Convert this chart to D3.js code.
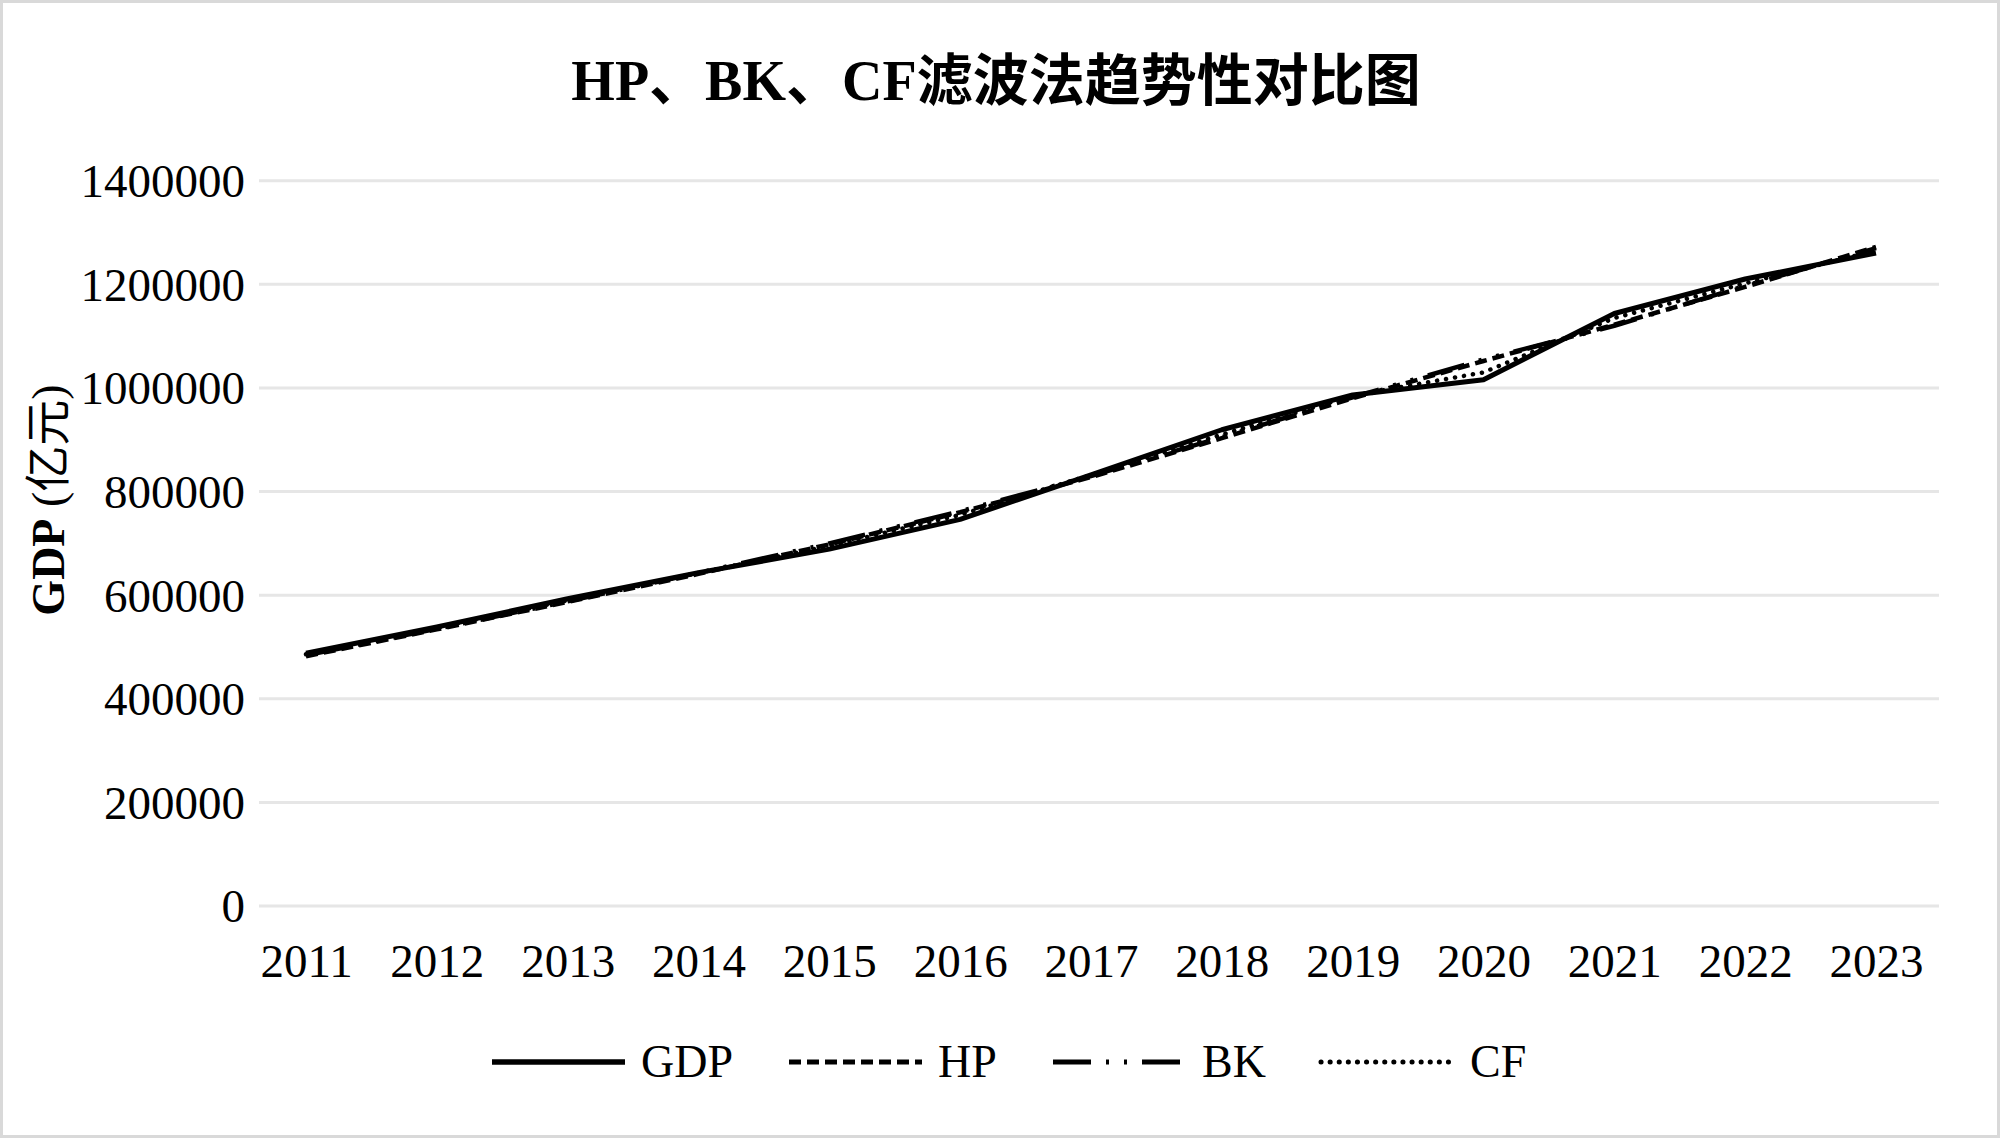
<!DOCTYPE html>
<html><head><meta charset="utf-8">
<script src="https://cdn.jsdelivr.net/npm/d3@7"></script>
<style>html,body{margin:0;padding:0;background:#fff;}svg{display:block;}</style>
</head><body>
<svg id="chart" width="2000" height="1138"></svg>
<script>
const years = ["2011","2012","2013","2014","2015","2016","2017","2018","2019","2020","2021","2022","2023"];
const gdp = [487940,538580,592963,643563,688858,746395,832036,919281,986515,1015986,1143670,1210207,1260582];
const hp  = [482000,534000,587000,641000,698000,760000,828000,903000,980000,1052000,1122000,1195000,1272000];
const bk  = [484000,535000,588000,643000,700000,762000,830000,905000,982000,1055000,1120000,1197000,1270000];
const cf  = [486000,537000,590000,643000,695000,755000,832000,910000,985000,1030000,1135000,1202000,1265000];
const yTicks = [0,200000,400000,600000,800000,1000000,1200000,1400000];
const seriesNames = ["GDP","HP","BK","CF"];
const titleText = "HP、BK、CF滤波法趋势性对比图";

const FONT = "'Liberation Serif','Times New Roman','Noto Sans CJK SC',serif";
const svg = d3.select("#chart");

svg.append("rect").attr("x",1.5).attr("y",1.5).attr("width",1997).attr("height",1135)
  .attr("fill","#fff").attr("stroke","#d9d9d9").attr("stroke-width",3);

const gridLeft = 259, gridRight = 1939;
const x = d3.scalePoint().domain(years).range([306,1876]);
const y = d3.scaleLinear().domain([0,1400000]).range([906,180.7]);

// gridlines
svg.append("g").selectAll("line").data(yTicks).join("line")
  .attr("x1",gridLeft).attr("x2",gridRight)
  .attr("y1",d=>y(d)).attr("y2",d=>y(d))
  .attr("stroke","#e6e6e6").attr("stroke-width",3);

// y axis labels
const yAxis = d3.axisLeft(y).tickValues(yTicks).tickSize(0).tickPadding(0).tickFormat(d=>String(d));
const gy = svg.append("g").attr("transform","translate(245,0)").call(yAxis);
gy.select(".domain").remove();
gy.selectAll("text").attr("font-family",FONT).attr("font-size",47).attr("fill","#000")
  .attr("dy","0.34em");

// x axis labels
const xAxis = d3.axisBottom(x).tickSize(0).tickPadding(0);
const gx = svg.append("g").attr("transform","translate(0,977)").call(xAxis);
gx.select(".domain").remove();
gx.selectAll("text").attr("font-family",FONT).attr("font-size",47).attr("fill","#000").attr("dy",0);

// series
const styles = [
  {data:gdp, dash:null, w:5, cap:"butt"},
  {data:hp, dash:"12,6", w:4.5, cap:"butt"},
  {data:bk, dash:"38,15,3,15,3,15", w:4.5, cap:"butt"},
  {data:cf, dash:"0.1,9", w:4.5, cap:"round"}
];
const line = d3.line().x((d,i)=>x(years[i])).y(d=>y(d));
styles.forEach(s=>{
  svg.append("path").datum(s.data).attr("d",line)
    .attr("fill","none").attr("stroke","#000").attr("stroke-width",s.w)
    .attr("stroke-linejoin","round").attr("stroke-linecap",s.cap)
    .attr("stroke-dasharray",s.dash);
});

// title
svg.append("text").attr("x",996).attr("y",100).attr("text-anchor","middle")
  .attr("font-family",FONT).attr("font-weight","bold").attr("font-size",56).attr("fill","#000")
  .text(titleText);

// y axis title
const yt = svg.append("text").attr("transform","translate(64,500) rotate(-90)")
  .attr("text-anchor","middle").attr("font-family",FONT).attr("font-size",46).attr("fill","#000");
yt.append("tspan").attr("font-weight","bold").text("GDP");
yt.append("tspan").text(" (亿元)");

// legend
const legX = [492,789,1053,1321];
const lg = svg.append("g");
seriesNames.forEach((n,i)=>{
  const s = styles[i];
  lg.append("line").attr("x1",legX[i]).attr("x2",legX[i]+133).attr("y1",1062).attr("y2",1062)
    .attr("stroke","#000").attr("stroke-width",s.w+0.5).attr("stroke-linecap",s.cap)
    .attr("stroke-dasharray",s.dash);
  lg.append("text").attr("x",legX[i]+149).attr("y",1077)
    .attr("font-family",FONT).attr("font-size",46).attr("fill","#000").text(n);
});
</script>
</body></html>
